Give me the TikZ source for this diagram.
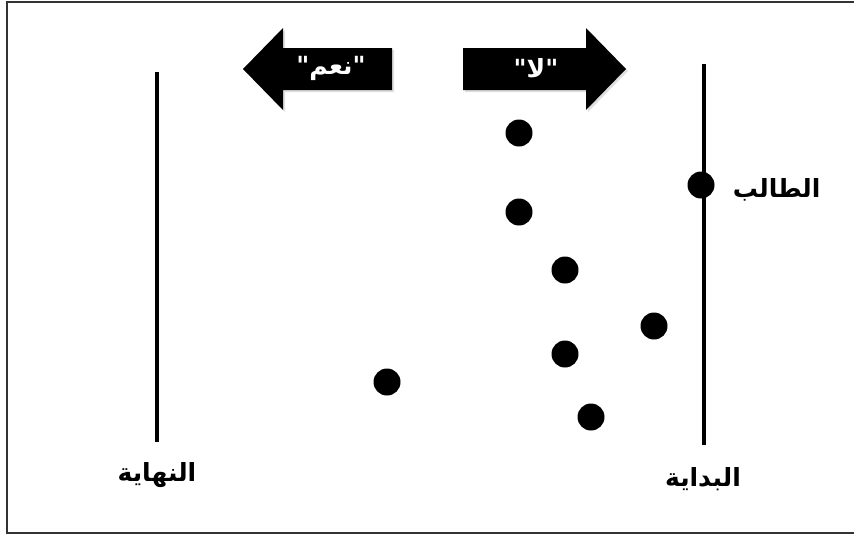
\documentclass[tikz,border=0pt]{standalone}
\usepackage{fontspec}
\newfontfamily\arabicfont[Script=Arabic]{DejaVu Sans}
\TeXXeTstate=1
\usetikzlibrary{positioning,shadows}

\begin{document}
\begin{tikzpicture}[x=1pt,y=-1pt,
    dot/.style={circle,fill=black,inner sep=0pt,minimum size=27pt},
    lbl/.style={font=\arabicfont\bfseries\fontsize{25}{28}\selectfont,inner sep=0pt},
    arrlbl/.style={lbl,text=white},
    pole/.style={line width=3.5pt},
    blk/.style={fill=black,drop shadow={opacity=0.25,shadow xshift=2pt,shadow yshift=-2pt}}]
  \useasboundingbox (0,0) rectangle (854,536);
  \draw[line width=1.4pt,black!80] (7,2) rectangle (870,533);
  % the two lines
  \coordinate (endtop) at (157,72);
  \coordinate (endbot) at (157,442);
  \coordinate (starttop) at (704,64);
  \coordinate (startbot) at (704,445);
  \draw[pole] (endtop) -- (endbot);
  \draw[pole] (starttop) -- (startbot);
  \node[lbl] (endlbl) at (157,475) {\beginR النهاية\endR};
  \node[lbl] (startlbl) at (703,479) {\beginR البداية\endR};
  % yes / no arrows
  \path[blk] (392,48) -- (283,48) -- (283,28) -- (243,69) -- (283,110)
    -- (283,90) -- (392,90) -- cycle;
  \path[blk] (463,48) -- (586,48) -- (586,28) -- (626,69) -- (586,110)
    -- (586,90) -- (463,90) -- cycle;
  \node[arrlbl] (yes) at (331,68) {\beginR"نعم"\endR};
  \node[arrlbl] (no) at (536,68) {\beginR"لا"\endR};
  % student
  \node[dot] (student) at (701,185) {};
  \node[lbl,right=18pt of student,yshift=-5pt] (studentlbl) {\beginR الطالب\endR};
  % others
  \foreach \p [count=\i] in {(519,133),(519,212),(565,270),(654,326),(565,354),(387,382),(591,417)}
    \node[dot] (d\i) at \p {};
\end{tikzpicture}
\end{document}
